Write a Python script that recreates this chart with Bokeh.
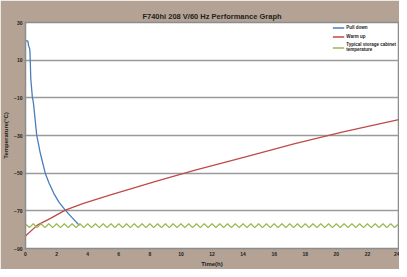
from bokeh.plotting import figure
from bokeh.models import Legend, LegendItem, Range1d, FixedTicker
from bokeh.embed import file_html
from bokeh.resources import INLINE

title_text = "F740hi 208 V/60 Hz Performance Graph"
x_ticks = [0, 2, 4, 6, 8, 10, 12, 14, 16, 18, 20, 22, 24]
y_ticks = [30, 10, -10, -30, -50, -70, -90]

pull_t = [0.0, 0.15, 0.19, 0.27, 0.29, 0.34, 0.44, 0.51, 0.72, 0.95, 1.27, 1.52, 1.82, 2.16, 2.56, 2.98, 3.47]
pull_T = [20.2, 20.2, 18.0, 16.0, 14.0, 0.1, -9.5, -12.7, -29.7, -39.3, -50.0, -55.3, -60.7, -65.5, -69.6, -73.5, -77.8]

warm_t = [0.0, 0.76, 1.61, 2.56, 3.73, 5.42, 8.38, 10.92, 14.1, 17.27, 20.44, 23.94, 24.0]
warm_T = [-83.4, -77.6, -74.0, -69.6, -66.0, -61.6, -54.3, -48.4, -41.5, -34.5, -28.1, -21.7, -21.6]

store_t = [0.0, 0.25, 0.5, 0.75, 1.0, 1.25, 1.5, 1.75, 2.0, 2.25, 2.5, 2.75, 3.0, 3.25, 3.5, 3.75,
           4.0, 4.25, 4.5, 4.75, 5.0, 5.25, 5.5, 5.75, 6.0, 6.25, 6.5, 6.75, 7.0, 7.25, 7.5, 7.75,
           8.0, 8.25, 8.5, 8.75, 9.0, 9.25, 9.5, 9.75, 10.0, 10.25, 10.5, 10.75, 11.0, 11.25, 11.5, 11.75,
           12.0, 12.25, 12.5, 12.75, 13.0, 13.25, 13.5, 13.75, 14.0, 14.25, 14.5, 14.75, 15.0, 15.25, 15.5, 15.75,
           16.0, 16.25, 16.5, 16.75, 17.0, 17.25, 17.5, 17.75, 18.0, 18.25, 18.5, 18.75, 19.0, 19.25, 19.5, 19.75,
           20.0, 20.25, 20.5, 20.75, 21.0, 21.25, 21.5, 21.75, 22.0, 22.25, 22.5, 22.75, 23.0, 23.25, 23.5, 23.75, 24.0]
store_T = [-77.0, -78.9, -76.9, -78.9, -76.9, -78.9, -76.9, -78.9, -76.9, -78.9, -76.9, -78.9, -76.9, -78.9, -76.9, -78.9,
           -76.9, -78.9, -76.9, -78.9, -76.9, -78.9, -76.9, -78.9, -76.9, -78.9, -76.9, -78.9, -76.9, -78.9, -76.9, -78.9,
           -76.9, -78.9, -76.9, -78.9, -76.9, -78.9, -76.9, -78.9, -76.9, -78.9, -76.9, -78.9, -76.9, -78.9, -76.9, -78.9,
           -76.9, -78.9, -76.9, -78.9, -76.9, -78.9, -76.9, -78.9, -76.9, -78.9, -76.9, -78.9, -76.9, -78.9, -76.9, -78.9,
           -76.9, -78.9, -76.9, -78.9, -76.9, -78.9, -76.9, -78.9, -76.9, -78.9, -76.9, -78.9, -76.9, -78.9, -76.9, -78.9,
           -76.9, -78.9, -76.9, -78.9, -76.9, -78.9, -76.9, -78.9, -76.9, -78.9, -76.9, -78.9, -76.9, -78.9, -76.9, -78.9, -77.0]

BG = "#b4a394"
FONT = "Liberation Sans"

p = figure(width=399, height=269, output_backend="svg", toolbar_location=None,
           x_range=Range1d(0, 24), y_range=Range1d(-90, 30),
           background_fill_color="white", border_fill_color=BG,
           min_border_left=20, min_border_right=1, min_border_top=22, min_border_bottom=0)

p.title.text = title_text
p.title.align = "center"
p.title.text_font = FONT
p.title.text_font_size = "7.5px"
p.title.text_font_style = "bold"
p.title.text_color = "#222222"
p.title.standoff = 4

p.outline_line_color = "#8c8c8c"
p.outline_line_width = 1.5

p.xaxis.ticker = FixedTicker(ticks=x_ticks)
p.yaxis.ticker = FixedTicker(ticks=y_ticks)
p.xaxis.axis_label = "Time(h)"
p.yaxis.axis_label = "Temperature(°C)"
for ax in (p.xaxis[0], p.yaxis[0]):
    ax.axis_label_text_font = FONT
    ax.axis_label_text_font_size = "6px"
    ax.axis_label_text_font_style = "bold"
    ax.axis_label_text_color = "#222222"
    ax.axis_label_standoff = 2
    ax.major_label_text_font = FONT
    ax.major_label_text_font_size = "5px"
    ax.major_label_text_font_style = "bold"
    ax.major_label_text_color = "#222222"
    ax.axis_line_color = "#8c8c8c"
    ax.major_tick_line_color = "#8c8c8c"
    ax.major_tick_in = 0
    ax.major_tick_out = 1
    ax.minor_tick_line_color = None
    ax.major_label_standoff = 2

p.xgrid.grid_line_color = None
p.ygrid.grid_line_color = "#9a9a9a"
p.ygrid.grid_line_width = 1.5

r1 = p.line(pull_t, pull_T, line_color="#4a7ebb", line_width=1.3)
r2 = p.line(warm_t, warm_T, line_color="#be4b48", line_width=1.3)
r3 = p.line(store_t, store_T, line_color="#98b954", line_width=1.3)

legend = Legend(items=[
    LegendItem(label="Pull down", renderers=[r1]),
    LegendItem(label="Warm up", renderers=[r2]),
    LegendItem(label="Typical storage cabinet\ntemperature", renderers=[r3]),
], location="top_right")
legend.label_text_font = FONT
legend.label_text_font_size = "4.5px"
legend.label_text_font_style = "bold"
legend.label_text_color = "#222222"
legend.glyph_width = 12
legend.glyph_height = 7
legend.label_height = 7
legend.spacing = 2
legend.padding = 2
legend.margin = 2
legend.label_standoff = 2
legend.border_line_color = None
legend.background_fill_alpha = 0
p.add_layout(legend, "center")

open("out.html", "w").write(file_html(p, INLINE))
